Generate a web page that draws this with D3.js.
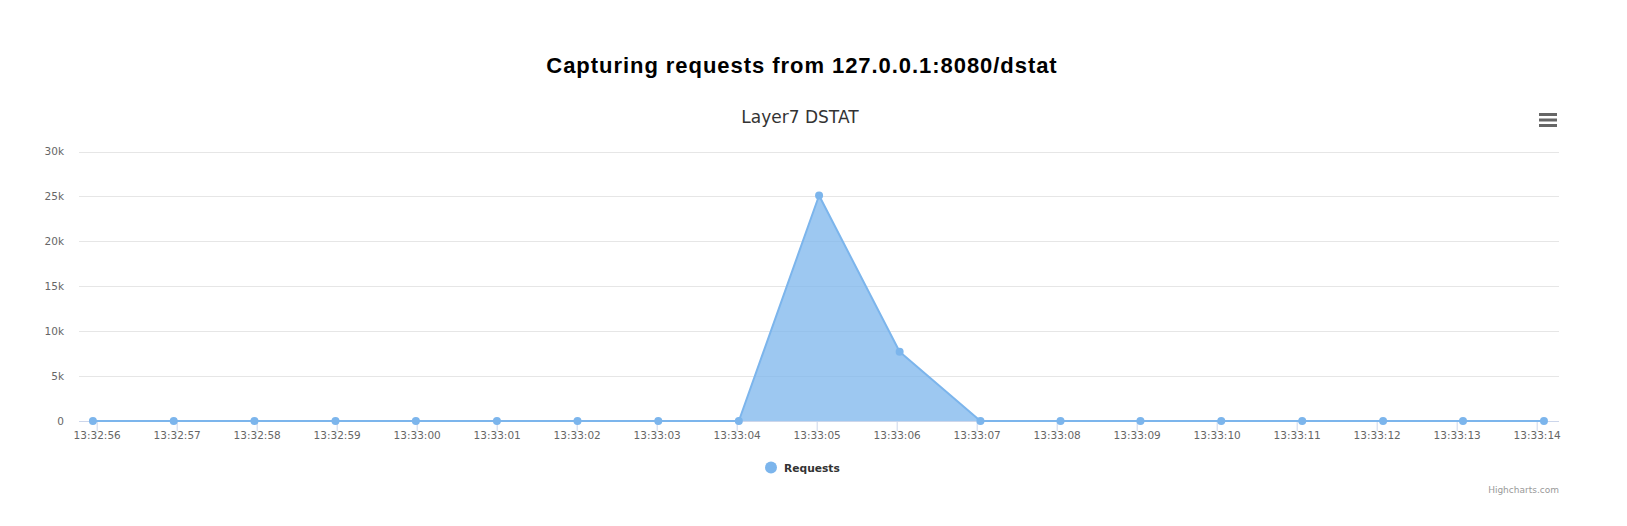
<!DOCTYPE html>
<html>
<head>
<meta charset="utf-8">
<script src="https://cdn.jsdelivr.net/npm/d3@7"></script>
<style>
  html, body { margin: 0; padding: 0; background: #fff; }
  svg { display: block; }
</style>
</head>
<body>
<svg id="chart" width="1627" height="526"></svg>
<script>
// ---- data ----
const pageTitle = "Capturing requests from 127.0.0.1:8080/dstat";
const chartTitle = "Layer7 DSTAT";
const seriesName = "Requests";
const sampleTimes = [
  "13:32:55.953", "13:32:56.963", "13:32:57.972", "13:32:58.985", "13:32:59.990",
  "13:33:01.003", "13:33:02.010", "13:33:03.020", "13:33:04.027", "13:33:05.030",
  "13:33:06.037", "13:33:07.047", "13:33:08.048", "13:33:09.047", "13:33:10.057",
  "13:33:11.069", "13:33:12.080", "13:33:13.079", "13:33:14.091"
];
const requestValues = [0, 0, 0, 0, 0, 0, 0, 0, 0, 25100, 7700, 0, 0, 0, 0, 0, 0, 0, 0];
const xTickLabels = [
  "13:32:56", "13:32:57", "13:32:58", "13:32:59", "13:33:00", "13:33:01", "13:33:02",
  "13:33:03", "13:33:04", "13:33:05", "13:33:06", "13:33:07", "13:33:08", "13:33:09",
  "13:33:10", "13:33:11", "13:33:12", "13:33:13", "13:33:14"
];
const yTicks = [0, 5000, 10000, 15000, 20000, 25000, 30000];
const xDomainLabels = ["13:32:55.779", "13:33:14.279"];

// ---- layout ----
const plot = { left: 79, right: 1559, top: 151.5, bottom: 421 };
const color = "#7cb5ec";
const font = "'DejaVu Sans', 'Lucida Grande', Arial, sans-serif";

const parseMs = d3.timeParse("%H:%M:%S.%L");
const parseS = d3.timeParse("%H:%M:%S");
const fmtTick = d3.timeFormat("%H:%M:%S");

const data = sampleTimes.map((t, i) => ({ t: parseMs(t), v: requestValues[i] }));

const x = d3.scaleTime()
  .domain(xDomainLabels.map(parseMs))
  .range([plot.left, plot.right]);
const y = d3.scaleLinear()
  .domain([0, 30000])
  .range([plot.bottom, plot.top]);

const svg = d3.select("#chart");

// titles
svg.append("text")
  .attr("x", 802).attr("y", 72.5)
  .attr("text-anchor", "middle")
  .attr("font-family", "'Liberation Sans', Arial, sans-serif")
  .attr("font-weight", "bold")
  .attr("font-size", 22)
  .attr("letter-spacing", "0.95px")
  .attr("fill", "#000")
  .text(pageTitle);

svg.append("text")
  .attr("x", 800).attr("y", 122.5)
  .attr("text-anchor", "middle")
  .attr("font-family", font)
  .attr("font-size", 17)
  .attr("fill", "#333333")
  .text(chartTitle);

// menu icon
const menu = svg.append("g").attr("stroke", "#666").attr("stroke-width", 3).attr("stroke-linecap", "butt");
[114.5, 120, 125.5].forEach(yy => {
  menu.append("line").attr("x1", 1539).attr("x2", 1557).attr("y1", yy).attr("y2", yy);
});

// grid
const yAxis = d3.axisLeft(y)
  .tickValues(yTicks)
  .tickSize(-(plot.right - plot.left))
  .tickPadding(15)
  .tickFormat(d => d === 0 ? "0" : (d / 1000) + "k");

const gy = svg.append("g")
  .attr("transform", `translate(${plot.left},0)`)
  .call(yAxis);
gy.select(".domain").remove();
gy.selectAll(".tick line").attr("stroke", "#e6e6e6").attr("shape-rendering", "crispEdges");
gy.selectAll(".tick text")
  .attr("font-family", font).attr("font-size", 10.5).attr("fill", "#666666")
  .attr("dy", "0.32em");

// area + line
const area = d3.area()
  .x(d => x(d.t)).y0(y(0)).y1(d => y(d.v));
const line = d3.line()
  .x(d => x(d.t)).y(d => y(d.v));

svg.append("path").datum(data)
  .attr("d", area)
  .attr("fill", color).attr("fill-opacity", 0.75);

// x axis
const xAxis = d3.axisBottom(x)
  .tickValues(xTickLabels.map(parseS))
  .tickSize(10)
  .tickPadding(1)
  .tickFormat(fmtTick);
const gx = svg.append("g")
  .attr("transform", `translate(0,${plot.bottom})`)
  .call(xAxis);
gx.select(".domain").attr("stroke", "#ccd6eb").attr("d", `M${plot.left},0.5H${plot.right}`);
gx.selectAll(".tick line").attr("stroke", "#ccd6eb");
gx.selectAll(".tick text")
  .attr("font-family", font).attr("font-size", 10.5).attr("fill", "#666666");

svg.append("path").datum(data)
  .attr("d", line)
  .attr("fill", "none").attr("stroke", color).attr("stroke-width", 2)
  .attr("stroke-linejoin", "round");

svg.append("g").selectAll("circle").data(data).join("circle")
  .attr("cx", d => x(d.t)).attr("cy", d => y(d.v)).attr("r", 4)
  .attr("fill", color);

// legend
svg.append("circle").attr("cx", 771).attr("cy", 467.5).attr("r", 6).attr("fill", color);
svg.append("text")
  .attr("x", 784).attr("y", 472)
  .attr("font-family", font).attr("font-size", 10.7).attr("font-weight", "bold")
  .attr("fill", "#333333")
  .text(seriesName);

// credits
svg.append("text")
  .attr("x", 1559).attr("y", 493)
  .attr("text-anchor", "end")
  .attr("font-family", font).attr("font-size", 9).attr("fill", "#999999")
  .text("Highcharts.com");
</script>
</body>
</html>
